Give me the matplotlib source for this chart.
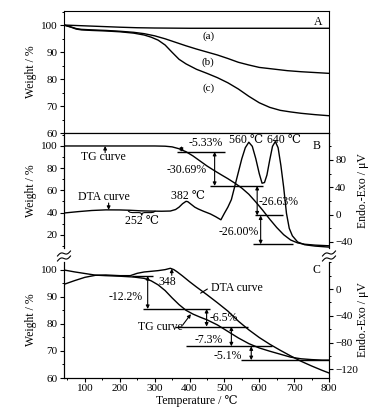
import numpy as np
import matplotlib
matplotlib.use('Agg')
import matplotlib.pyplot as plt
from matplotlib.lines import Line2D
from matplotlib.ticker import MultipleLocator

plt.rcParams['font.family'] = ['Liberation Serif', 'DejaVu Serif', 'DejaVu Sans']
plt.rcParams['font.size'] = 8
plt.rcParams['axes.linewidth'] = 0.8

# ---- panel A: TG of samples (a), (b), (c)
a_temp = [40, 80, 120, 160, 200, 250, 300, 400, 500, 600, 700, 800]
a_weight = [100, 99.8, 99.6, 99.4, 99.2, 99.0, 98.9, 98.8, 98.8, 98.8, 98.8, 98.8]

b_temp = [40, 60, 75, 90, 120, 160, 200, 240, 270, 300, 330, 360, 390, 420, 450,
          480, 510, 540, 570, 600, 640, 680, 720, 760, 800]
b_weight = [100, 99.3, 98.7, 98.4, 98.2, 98.0, 97.7, 97.3, 96.8, 96.0, 94.9, 93.6,
            92.3, 91.1, 90.0, 88.9, 87.6, 86.2, 85.2, 84.3, 83.7, 83.1, 82.7, 82.4, 82.1]

c_temp = [40, 60, 75, 90, 120, 160, 200, 240, 270, 290, 310, 330, 350, 370, 390, 420,
          450, 480, 510, 540, 570, 600, 630, 660, 690, 720, 760, 800]
c_weight = [100, 99.2, 98.5, 98.2, 98.0, 97.8, 97.5, 97.0, 96.3, 95.5, 94.4, 92.6, 89.9,
            87.3, 85.6, 83.6, 82.1, 80.5, 78.6, 76.3, 73.6, 71.2, 69.5, 68.4, 67.8,
            67.3, 66.8, 66.4]

# ---- panel B: TG / DTA
tgB_temp = [40, 100, 200, 300, 330, 350, 370, 390, 410, 430, 450, 470, 490, 510, 530,
            550, 570, 590, 610, 630, 650, 670, 690, 710, 730, 760, 800]
tgB_weight = [100, 100, 100, 100, 99.8, 99.2, 97.5, 94.8, 91.0, 86.5, 82.0, 78.0, 74.2,
              70.5, 66.5, 62.0, 56.5, 49.5, 42.0, 34.0, 26.5, 20.0, 15.2, 12.6, 11.4,
              10.6, 10.0]

dtaB_temp = [40, 80, 120, 160, 200, 230, 260, 290, 320, 345, 360, 370, 380, 390, 395,
             405, 415, 425, 440, 460, 475, 490, 500, 510, 520, 530, 540, 550, 560, 570,
             580, 590, 600, 608, 615, 622, 630, 638, 646, 654, 662, 670, 678, 686, 695,
             710, 730, 760, 800]
dtaB_signal = [2.4, 4.4, 6.1, 7.0, 6.9, 6.4, 5.6, 5.2, 5.0, 5.3, 7.5, 11, 16, 19.5, 19,
               15, 11, 8.3, 5, 1, -3, -7.5, 2, 11, 22, 42, 62, 82, 98, 106,
               100, 82, 60, 46, 47, 58, 80, 100, 107, 98, 72, 40, 2, -20, -31,
               -40, -44, -46, -47.5]

b_losses = [5.33, 30.69, 26.63, 26.00]
b_loss_labels = ['-5.33%', '-30.69%', '-26.63%', '-26.00%']

# ---- panel C: TG / DTA
tgC_temp = [40, 70, 100, 130, 160, 200, 240, 270, 290, 310, 330, 350, 370, 390, 410,
            430, 450, 480, 510, 540, 570, 600, 630, 660, 690, 720, 750, 780, 800]
tgC_weight = [99.9, 99.2, 98.6, 98.0, 97.8, 97.6, 97.3, 96.8, 95.9, 94.4, 92.3, 89.6,
              87.1, 85.0, 83.6, 82.5, 81.5, 79.6, 77.2, 74.8, 72.7, 71.1, 69.9, 68.8,
              67.7, 67.1, 66.8, 66.6, 66.6]

dtaC_temp = [40, 70, 100, 130, 160, 200, 230, 250, 270, 290, 310, 330, 345, 355, 365,
             380, 400, 420, 450, 480, 510, 540, 570, 600, 630, 660, 690, 720, 750, 780, 800]
dtaC_signal = [7.0, 12.5, 17.5, 20.5, 21.0, 20.0, 20.0, 23.5, 25.5, 26.5, 27.5, 29.0,
               31.0, 29.0, 25.5, 19.5, 11.0, 3.0, -8.5, -20.5, -33.0, -48.0, -61.0,
               -72.5, -82.5, -91.5, -100.0, -108.0, -115.0, -121.5, -125.5]

c_start = 97.7
c_losses = [12.2, 6.5, 7.3, 5.1]
c_loss_labels = ['-12.2%', '-6.5%', '-7.3%', '-5.1%']

xticks = [100, 200, 300, 400, 500, 600, 700, 800]

# ---------------------------------------------------------------------------
W, H = 392, 415
fig = plt.figure(figsize=(W / 100, H / 100), dpi=100)


def frac(x0, y0, x1, y1):
    return [x0 / W, 1 - y1 / H, (x1 - x0) / W, (y1 - y0) / H]


ax_a = fig.add_axes(frac(64, 11, 329, 133))
ax_b = fig.add_axes(frac(64, 133, 329, 248))
ax_c = fig.add_axes(frac(64, 262, 329, 378))
ax_b2 = ax_b.twinx()
ax_c2 = ax_c.twinx()

lw = 1.0
tick_kw = dict(direction='out', labelsize=8, width=0.8, pad=1.5)

for ax in (ax_a, ax_b, ax_c, ax_b2, ax_c2):
    ax.set_xlim(40, 800)
    ax.tick_params(which='major', length=3, **tick_kw)
    ax.tick_params(which='minor', length=1.6, direction='out', width=0.7)

for ax in (ax_a, ax_b, ax_b2):
    ax.tick_params(axis='x', which='both', bottom=False, top=False, labelbottom=False)

ax_c.set_xticks(xticks)
ax_c.xaxis.set_minor_locator(MultipleLocator(50))
ax_c2.tick_params(axis='x', which='both', bottom=False, labelbottom=False)

# panel A
ax_a.plot(a_temp, a_weight, color='black', lw=lw)
ax_a.plot(b_temp, b_weight, color='black', lw=lw)
ax_a.plot(c_temp, c_weight, color='black', lw=lw)
ax_a.set_ylim(60, 105.2)
ax_a.set_yticks([60, 70, 80, 90, 100])
ax_a.yaxis.set_minor_locator(MultipleLocator(5))
ax_a.text(454, 95.9, '(a)', ha='center', va='center')
ax_a.text(454, 86.2, '(b)', ha='center', va='center')
ax_a.text(454, 76.5, '(c)', ha='center', va='center')
ax_a.text(769, 101.2, 'A', ha='center', va='center', fontsize=8.5)

# panel B
ax_b.spines['bottom'].set_visible(False)
ax_b2.spines['bottom'].set_visible(False)
ax_b.plot(tgB_temp, tgB_weight, color='black', lw=lw)
ax_b2.plot(dtaB_temp, dtaB_signal, color='black', lw=lw)
ax_b.set_ylim(8, 111.7)
ax_b.set_yticks([20, 40, 60, 80, 100])
ax_b.yaxis.set_minor_locator(MultipleLocator(10))
ax_b2.set_ylim(-48.8, 119.5)
ax_b2.set_yticks([-40, 0, 40, 80])
ax_b2.yaxis.set_minor_locator(MultipleLocator(20))

arrow_kw = dict(arrowstyle='<|-|>', color='black', lw=0.8, mutation_scale=5,
                shrinkA=0, shrinkB=0)
point_kw = dict(arrowstyle='-|>', color='black', lw=0.8, mutation_scale=5,
                shrinkA=0, shrinkB=0)

b_levels = 100 - np.cumsum([0] + b_losses)
b_line_x = [(363, 501), (458, 611), (589, 668), (582, 696)]
b_arrow_x = [377, 472, 594, 604]
b_text_pos = [(398, 102.6, 'left'), (391, 78.4, 'center'),
              (598, 49.2, 'left'), (540, 22.7, 'center')]
for i in range(4):
    ax_b.hlines(b_levels[i + 1], *b_line_x[i], color='black', lw=1.0)
    ax_b.annotate('', xy=(b_arrow_x[i], b_levels[i + 1]), xytext=(b_arrow_x[i], b_levels[i]),
                  arrowprops=arrow_kw)
    tx, ty, ha = b_text_pos[i]
    ax_b.text(tx, ty, b_loss_labels[i], ha=ha, va='center', fontsize=8.5)

ax_b.annotate('', xy=(158, 100), xytext=(158, 94), arrowprops=point_kw)
ax_b.text(153, 90.3, 'TG curve', ha='center', va='center', fontsize=8.5)
ax_b2.annotate('', xy=(168, 7.0), xytext=(168, 17), arrowprops=point_kw)
ax_b2.text(153, 25.5, 'DTA curve', ha='center', va='center', fontsize=8.5)

brace_T = [225, 229, 236, 256, 261, 263, 265, 270, 290, 297, 301]
brace_d = [5.0, 3.6, 3.0, 3.0, 2.2, -0.8, 2.2, 3.0, 3.0, 3.6, 5.0]
ax_b2.plot(brace_T, brace_d, color='black', lw=0.8)
ax_b2.text(263, -9.5, '252 \u2103', ha='center', va='center', fontsize=8.5)
ax_b2.text(396, 27.5, '382 \u2103', ha='center', va='center', fontsize=8.5)
ax_b2.text(561, 109.5, '560 \u2103', ha='center', va='center', fontsize=8.5)
ax_b2.text(672, 109.5, '640 \u2103', ha='center', va='center', fontsize=8.5)
ax_b2.text(765, 101, 'B', ha='center', va='center', fontsize=8.5)

# panel C
ax_c.spines['top'].set_visible(False)
ax_c2.spines['top'].set_visible(False)
ax_c.plot(tgC_temp, tgC_weight, color='black', lw=lw)
ax_c2.plot(dtaC_temp, dtaC_signal, color='black', lw=lw)
ax_c.set_ylim(60, 102.85)
ax_c.set_yticks([60, 70, 80, 90, 100])
ax_c.yaxis.set_minor_locator(MultipleLocator(5))
ax_c2.set_ylim(-133.0, 40.4)
ax_c2.set_yticks([-120, -80, -40, 0])
ax_c2.yaxis.set_minor_locator(MultipleLocator(20))

c_levels = c_start - np.cumsum([0] + c_losses)
c_line_x = [(234, 296), (268, 458), (358, 569), (391, 636), (549, 800)]
c_arrow_x = [280, 449, 520, 577]
c_text_pos = [(218, 90.0), (498, 82.0), (456, 74.2), (511, 68.0)]
for i in range(5):
    ax_c.hlines(c_levels[i], *c_line_x[i], color='black', lw=1.0)
for i in range(4):
    ax_c.annotate('', xy=(c_arrow_x[i], c_levels[i + 1]), xytext=(c_arrow_x[i], c_levels[i]),
                  arrowprops=arrow_kw)
    ax_c.text(*c_text_pos[i], c_loss_labels[i], ha='center', va='center', fontsize=8.5)

ax_c2.annotate('', xy=(349, 30.5), xytext=(349, 20.5), arrowprops=point_kw)
ax_c.text(337, 95.6, '348', ha='center', va='center', fontsize=8.5)
ax_c.annotate('', xy=(425, 90.8), xytext=(458, 93.4),
              arrowprops=dict(arrowstyle='-', color='black', lw=0.8))
ax_c.text(462, 93.4, 'DTA curve', ha='left', va='center', fontsize=8.5)
ax_c.annotate('', xy=(404, 83.6), xytext=(380, 79.5), arrowprops=point_kw)
ax_c.text(315, 78.9, 'TG curve', ha='center', va='center', fontsize=8.5)
ax_c.text(763, 100.0, 'C', ha='center', va='center', fontsize=8.5)

ax_c.set_xlabel('Temperature / \u2103', fontsize=8.5, labelpad=1)

for ax in (ax_a, ax_b, ax_c):
    ax.set_ylabel('Weight / %', fontsize=8.5)
    ax.yaxis.set_label_coords(-0.102, 0.5)
for ax in (ax_b2, ax_c2):
    ax.set_ylabel('Endo.-Exo / \u03bcV', fontsize=8.5)
    ax.yaxis.set_label_coords(1.105, 0.5)

# axis break marks between panels B and C
t = np.linspace(-1, 1, 30)
for cx in (64, 329):
    for cy in (253.5, 258.5):
        px = cx + 6.5 * t
        py = cy - 2.5 * t + 1.6 * np.sin(np.pi * t)
        fig.add_artist(Line2D(px / W, 1 - py / H, color='black', lw=0.8))

fig.savefig('out.png', dpi=100)
